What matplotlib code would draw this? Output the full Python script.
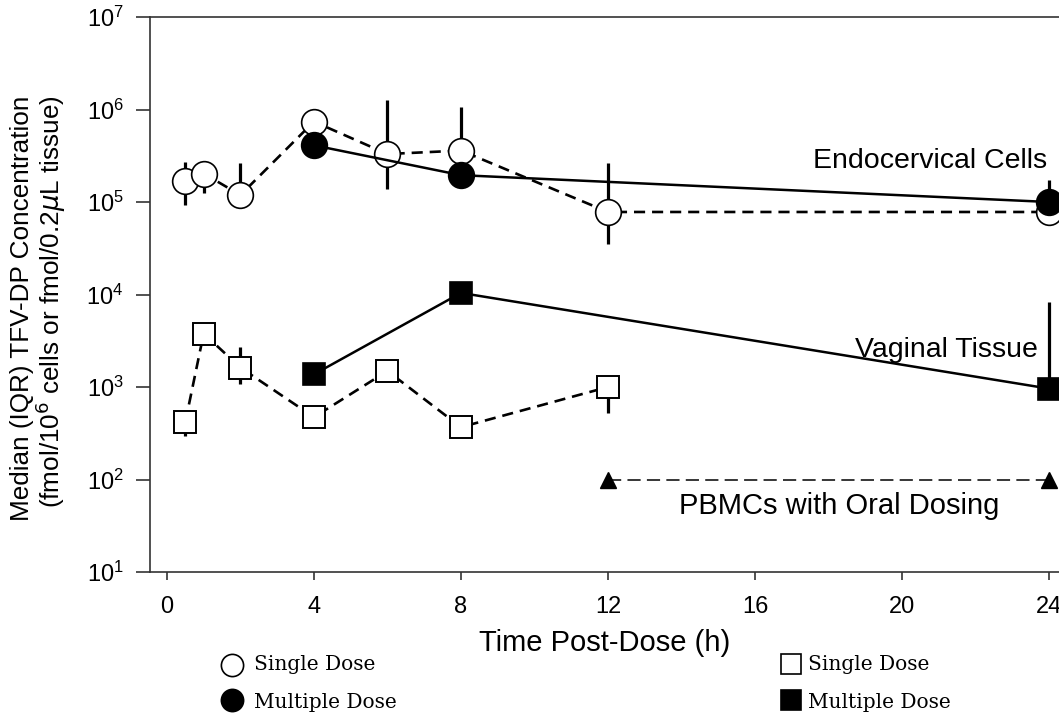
import matplotlib
matplotlib.use("Agg")
import matplotlib.pyplot as plt
from matplotlib.lines import Line2D
import numpy as np

plt.rcParams['font.family'] = ['Liberation Sans', 'DejaVu Sans']
plt.rcParams['lines.scale_dashes'] = False

# ---- data ----
endo_single_t = [0.5, 1, 2, 4, 6, 8, 12, 24]
endo_single_med = [1.69e5, 2.03e5, 1.19e5, 7.4e5, 3.3e5, 3.6e5, 7.8e4, 7.8e4]
endo_single_lo = [9.2e4, 1.25e5, 1.19e5, 7.4e5, 1.38e5, 3.6e5, 3.5e4, 7.8e4]
endo_single_hi = [2.72e5, 2.03e5, 2.65e5, 7.4e5, 1.26e6, 3.6e5, 2.65e5, 7.8e4]

endo_multi_t = [4, 8, 24]
endo_multi_med = [4.1e5, 1.95e5, 1.0e5]
endo_multi_lo = [4.1e5, 1.95e5, 1.0e5]
endo_multi_hi = [7.9e5, 1.06e6, 1.75e5]

vag_single_t = [0.5, 1, 2, 4, 6, 8, 12]
vag_single_med = [417, 3780, 1620, 472, 1490, 368, 1000]
vag_single_lo = [292, 3780, 1090, 472, 1490, 368, 522]
vag_single_hi = [417, 3780, 2730, 472, 1490, 368, 1000]

vag_multi_t = [4, 8, 24]
vag_multi_med = [1370, 1.04e4, 960]
vag_multi_lo = [1370, 1.04e4, 960]
vag_multi_hi = [1370, 1.04e4, 8300]

pbmc_t = [12, 24]
pbmc_med = [100, 100]

x_ticks = [0, 4, 8, 12, 16, 20, 24]

W, H = 1059, 716
fig = plt.figure(figsize=(W / 100, H / 100), dpi=100)
ax = fig.add_axes([150 / W, 1 - 572 / H, (W - 150) / W, (572 - 17) / H])
ax.set_yscale('log')
ax.set_ylim(1e1, 1e7)
ax.set_xlim(-0.46, 24.27)


def yerr(med, lo, hi):
    med = np.array(med); lo = np.array(lo); hi = np.array(hi)
    return [med - lo, hi - med]


dash_main = (0, (8, 5))
dash_pbmc = (0, (9.5, 4.5))

# error bars
for t, m, lo, hi in [(endo_single_t, endo_single_med, endo_single_lo, endo_single_hi),
                     (endo_multi_t, endo_multi_med, endo_multi_lo, endo_multi_hi),
                     (vag_single_t, vag_single_med, vag_single_lo, vag_single_hi),
                     (vag_multi_t, vag_multi_med, vag_multi_lo, vag_multi_hi)]:
    ax.errorbar(t, m, yerr=yerr(m, lo, hi), fmt='none', ecolor='black',
                elinewidth=2.3, capsize=0, zorder=2, clip_on=False)

# lines
ax.plot(endo_single_t, endo_single_med, color='black', lw=1.9, ls=dash_main,
        marker='o', ms=18.5, mfc='white', mec='black', mew=1.2, zorder=3)
ax.plot(endo_multi_t, endo_multi_med, color='black', lw=1.8, ls='-',
        marker='o', ms=18.5, mfc='black', mec='black', mew=1.2, zorder=4)
ax.plot(vag_single_t, vag_single_med, color='black', lw=1.9, ls=dash_main,
        marker='s', ms=16.5, mfc='white', mec='black', mew=1.4, zorder=3)
ax.plot(vag_multi_t, vag_multi_med, color='black', lw=1.8, ls='-',
        marker='s', ms=16.5, mfc='black', mec='black', mew=1.2, zorder=4)
ax.plot(pbmc_t, pbmc_med, color='black', lw=1.1, ls=dash_pbmc,
        marker='^', ms=12, mfc='black', mec='black', zorder=4)

# axes styling
ax.spines['right'].set_visible(False)
for s in ['left', 'bottom', 'top']:
    ax.spines[s].set_linewidth(1.2)
    ax.spines[s].set_color('#333333')
ax.set_xticks(x_ticks)
ax.set_xticklabels([str(v) for v in x_ticks])
ax.tick_params(axis='both', which='major', direction='out', width=1.2,
               labelsize=17, color='#333333')
ax.tick_params(axis='x', length=6, pad=11)
ax.tick_params(axis='y', length=10, pad=9)
ax.yaxis.set_minor_locator(matplotlib.ticker.NullLocator())

ax.set_xlabel('Time Post-Dose (h)', fontsize=21, labelpad=8)

fig.text(22 / W, 1 - 308 / H, 'Median (IQR) TFV-DP Concentration', rotation=90,
         ha='center', va='center', fontsize=18.8)
fig.text(51 / W, 1 - 302 / H, r'(fmol/10$^{6}$ cells or fmol/0.2$\mu$L tissue)', rotation=90,
         ha='center', va='center', fontsize=18.8)

# annotations
ax.text(23.95, 2.8e5, 'Endocervical Cells', ha='right', va='center', fontsize=20.5)
ax.text(23.7, 2.5e3, 'Vaginal Tissue', ha='right', va='center', fontsize=20.5)
ax.text(18.3, 52, 'PBMCs with Oral Dosing', ha='center', va='center', fontsize=21)

# bottom legend
def fig_marker(x, y, marker, fc, ms):
    fig.add_artist(Line2D([x / W], [1 - y / H], transform=fig.transFigure,
                          marker=marker, ms=ms, mfc=fc, mec='black', mew=1.2, ls='none'))

fig_marker(232, 665, 'o', 'white', 16)
fig_marker(232, 700, 'o', 'black', 16)
fig_marker(791, 664, 's', 'white', 15)
fig_marker(791, 700, 's', 'black', 15)
serif = ['DejaVu Serif']
for x, y, s in [(254, 664, 'Single Dose'), (254, 702, 'Multiple Dose'),
                (808, 664, 'Single Dose'), (808, 702, 'Multiple Dose')]:
    fig.text(x / W, 1 - y / H, s, ha='left', va='center', fontsize=14.5, family=serif)

fig.savefig('out.png', dpi=100)
